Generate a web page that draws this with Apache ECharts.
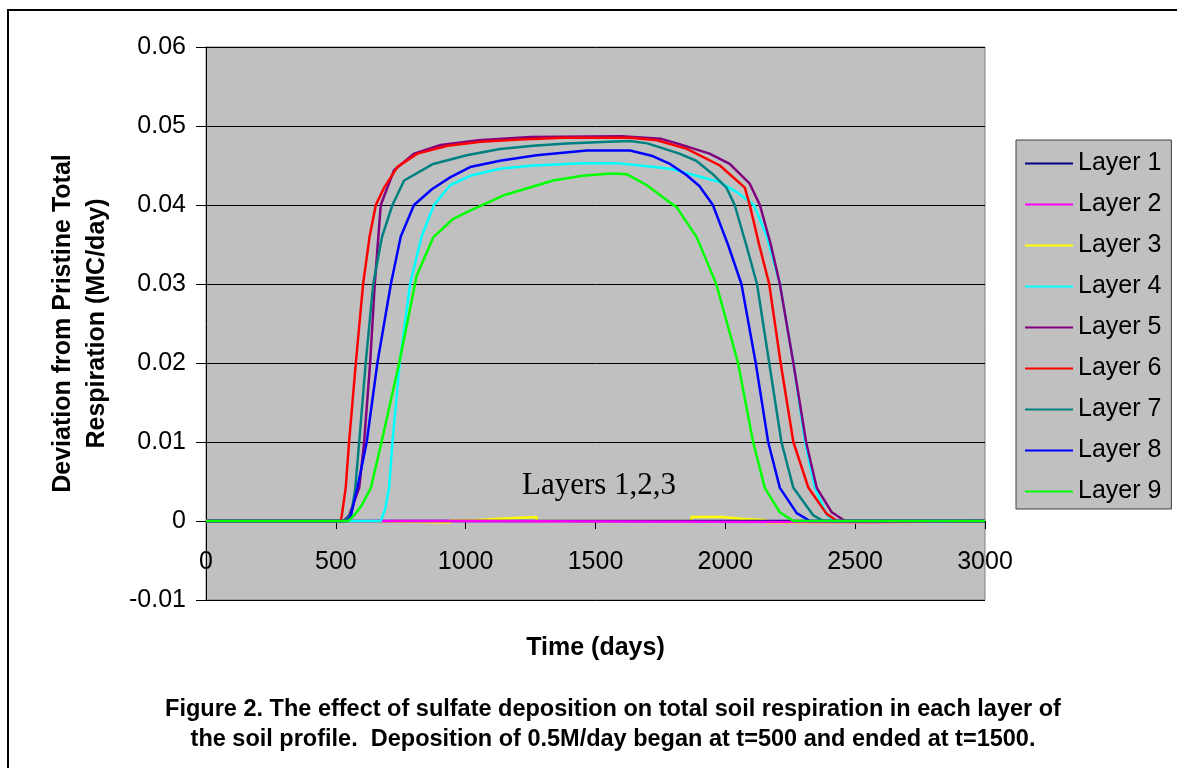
<!DOCTYPE html>
<html>
<head>
<meta charset="utf-8">
<title>Figure 2</title>
<script src="https://cdn.jsdelivr.net/npm/echarts@6/dist/echarts.min.js"></script>
<style>
  html, body { margin: 0; padding: 0; background: #fff; }
  #chart { width: 1177px; height: 768px; }
</style>
</head>
<body>
<div id="chart"></div>
<script>
// tick labels
const xTicks = [0, 500, 1000, 1500, 2000, 2500, 3000]
const yTicks = [-0.01, 0, 0.01, 0.02, 0.03, 0.04, 0.05, 0.06]

const layerNames = ['Layer 1', 'Layer 2', 'Layer 3', 'Layer 4', 'Layer 5', 'Layer 6', 'Layer 7', 'Layer 8', 'Layer 9']
const layerColors = ['#000080', '#ff00ff', '#ffff00', '#00ffff', '#800080', '#ff0000', '#008080', '#0000ff', '#00ff00']

// [day, deviation]
const layer1 = [[0, 0], [3000, 0]]
const layer2 = [[0, 0], [940, 0], [940, -0.00017], [2576, -0.00017], [2576, 0], [3000, 0]]
const layer3 = [[0, 0], [617, 0], [617, -0.0002], [940, -0.0002], [940, 0.0001], [1036, 0.0001], [1036, 0.0003],
  [1132, 0.0003], [1132, 0.0005], [1273, 0.0005], [1273, 0], [1870, 0], [1870, 0.0005], [1986, 0.0005],
  [1986, 0.0003], [2063, 0.0003], [2063, 0.0001], [2159, 0.0001], [2159, -0.0002], [2568, -0.0002], [2568, 0], [3000, 0]]
const layer4 = [[0, 0], [673, 0], [690, 0.0015], [705, 0.0042], [718, 0.01], [746, 0.02], [786, 0.03], [830, 0.036],
  [878, 0.04], [940, 0.0425], [1017, 0.0437], [1132, 0.0446], [1260, 0.045], [1452, 0.0453], [1581, 0.0453],
  [1700, 0.0449], [1787, 0.0446], [1900, 0.0436], [1979, 0.0429], [2050, 0.0415], [2110, 0.04], [2160, 0.036],
  [2210, 0.03], [2262, 0.02], [2307, 0.01], [2345, 0.0042], [2390, 0.0008], [2416, 0], [3000, 0]]
const layer5 = [[0, 0], [530, 0], [551, 0.0007], [590, 0.0042], [609, 0.01], [632, 0.02], [650, 0.03], [673, 0.04],
  [724, 0.0444], [801, 0.0465], [904, 0.0476], [1050, 0.0482], [1250, 0.0486], [1600, 0.0487], [1750, 0.0484],
  [1823, 0.0477], [1939, 0.0465], [2017, 0.0452], [2094, 0.0427], [2133, 0.04], [2175, 0.035], [2210, 0.03],
  [2262, 0.02], [2311, 0.01], [2352, 0.0042], [2410, 0.0011], [2461, 0], [3000, 0]]
const layer6 = [[0, 0], [519, 0], [523, 0.0007], [538, 0.0042], [551, 0.01], [577, 0.02], [605, 0.03], [630, 0.036],
  [654, 0.04], [686, 0.0422], [737, 0.0448], [814, 0.0465], [930, 0.0475], [1058, 0.048], [1209, 0.0483],
  [1375, 0.0485], [1633, 0.0485], [1737, 0.0482], [1852, 0.0471], [1979, 0.045], [2075, 0.0422], [2094, 0.04],
  [2130, 0.035], [2169, 0.03], [2213, 0.02], [2262, 0.01], [2320, 0.0042], [2390, 0.0009], [2430, 0], [3000, 0]]
const layer7 = [[0, 0], [535, 0], [560, 0.001], [575, 0.0042], [590, 0.01], [615, 0.02], [644, 0.03], [678, 0.036],
  [718, 0.04], [763, 0.0431], [875, 0.0452], [1004, 0.0463], [1132, 0.0471], [1260, 0.0475], [1389, 0.0478],
  [1550, 0.048], [1633, 0.0481], [1700, 0.0478], [1823, 0.0465], [1888, 0.0456], [1952, 0.0439], [2004, 0.0422],
  [2036, 0.04], [2080, 0.035], [2122, 0.03], [2169, 0.02], [2216, 0.01], [2262, 0.0042], [2339, 0.0007],
  [2378, 0], [3000, 0]]
const layer8 = [[0, 0], [545, 0], [558, 0.0007], [583, 0.0042], [619, 0.01], [660, 0.02], [712, 0.03], [750, 0.036],
  [801, 0.04], [870, 0.042], [940, 0.0435], [1017, 0.0448], [1132, 0.0456], [1273, 0.0463], [1466, 0.0469],
  [1633, 0.0469], [1720, 0.0462], [1787, 0.0452], [1850, 0.0438], [1900, 0.0424], [1952, 0.04], [2010, 0.035],
  [2062, 0.03], [2117, 0.02], [2165, 0.01], [2210, 0.0042], [2275, 0.001], [2326, 0], [3000, 0]]
const layer9 = [[0, 0], [548, 0], [570, 0.0007], [600, 0.002], [635, 0.0042], [676, 0.01], [744, 0.02], [811, 0.031],
  [875, 0.0359], [950, 0.0382], [1017, 0.0393], [1144, 0.0412], [1337, 0.0431], [1450, 0.0437], [1560, 0.044],
  [1620, 0.0439], [1698, 0.0425], [1775, 0.0406], [1813, 0.0397], [1890, 0.0359], [1965, 0.03], [2049, 0.02],
  [2107, 0.01], [2152, 0.0042], [2210, 0.0011], [2262, 0], [3000, 0]]

const layerData = [layer1, layer2, layer3, layer4, layer5, layer6, layer7, layer8, layer9]

const chartDom = document.getElementById('chart')
const myChart = echarts.init(chartDom, null, { renderer: 'canvas' })

const fontSans = "'Liberation Sans', Arial, sans-serif"

const series = layerData.map((d, i) => ({
  name: layerNames[i],
  type: 'line',
  data: d,
  symbol: 'none',
  // layer 3 sits under the others near zero
  z: i === 2 ? 1 : 2,
  lineStyle: { color: layerColors[i], width: 2.5 },
  itemStyle: { color: layerColors[i] },
  emphasis: { disabled: true }
}))

const option = {
  animation: false,
  backgroundColor: '#ffffff',
  grid: {
    left: 206,
    right: 192,
    top: 47,
    bottom: 168,
    show: true,
    backgroundColor: '#c0c0c0',
    borderColor: '#808080',
    borderWidth: 1
  },
  legend: {
    orient: 'vertical',
    left: 1016,
    top: 140,
    padding: [11, 10, 5, 9],
    itemWidth: 48,
    itemHeight: 2,
    itemGap: 16,
    icon: 'rect',
    backgroundColor: '#c0c0c0',
    borderColor: '#404040',
    borderWidth: 1,
    borderRadius: 0,
    selectedMode: false,
    textStyle: { fontFamily: fontSans, fontSize: 25, lineHeight: 25, color: '#000' },
    data: layerNames
  },
  xAxis: {
    type: 'value',
    min: xTicks[0],
    max: xTicks[xTicks.length - 1],
    interval: 500,
    // axis drawn at y = 0 (grid bottom is -0.01)
    offset: -79,
    name: 'Time (days)',
    nameLocation: 'middle',
    nameGap: 115,
    nameTextStyle: { fontFamily: fontSans, fontSize: 25, fontWeight: 'bold', color: '#000' },
    axisLine: { show: true, onZero: false, lineStyle: { color: '#000', width: 1 } },
    axisTick: { show: true, length: 8, lineStyle: { color: '#000' } },
    axisLabel: {
      margin: 29, fontFamily: fontSans, fontSize: 25, color: '#000',
      showMinLabel: true, showMaxLabel: true,
      formatter: v => String(v)
    },
    splitLine: { show: false }
  },
  yAxis: {
    type: 'value',
    min: yTicks[0],
    max: yTicks[yTicks.length - 1],
    interval: 0.01,
    name: 'Deviation from Pristine Total\nRespiration (MC/day)',
    nameLocation: 'middle',
    nameRotate: 90,
    nameGap: 92,
    nameTextStyle: { fontFamily: fontSans, fontSize: 25, fontWeight: 'bold', color: '#000', lineHeight: 34, align: 'center' },
    axisLine: { show: true, onZero: false, lineStyle: { color: '#000', width: 1 } },
    axisTick: { show: true, length: 10, lineStyle: { color: '#000' } },
    axisLabel: {
      margin: 20, fontFamily: fontSans, fontSize: 25, color: '#000',
      formatter: v => String(Math.round(v * 100) / 100)
    },
    splitLine: { show: true, lineStyle: { color: '#000', width: 1 } }
  },
  graphic: [
    {
      type: 'rect',
      shape: { x: 8, y: 10, width: 1200, height: 800 },
      style: { fill: 'none', stroke: '#000', lineWidth: 2 },
      silent: true,
      z: 100
    },
    {
      type: 'text',
      x: 522,
      y: 486,
      style: {
        text: 'Layers 1,2,3',
        font: "31px 'Liberation Serif', 'Times New Roman', serif",
        fill: '#000',
        textAlign: 'left',
        textVerticalAlign: 'middle'
      },
      z: 100
    },
    {
      type: 'text',
      x: 613,
      y: 725,
      style: {
        text: 'Figure 2. The effect of sulfate deposition on total soil respiration in each layer of\nthe soil profile.  Deposition of 0.5M/day began at t=500 and ended at t=1500.',
        font: "bold 23.5px 'Liberation Sans', Arial, sans-serif",
        lineHeight: 30,
        fill: '#000',
        textAlign: 'center',
        textVerticalAlign: 'middle'
      },
      z: 100
    }
  ],
  series: series
}

myChart.setOption(option)
</script>
</body>
</html>
